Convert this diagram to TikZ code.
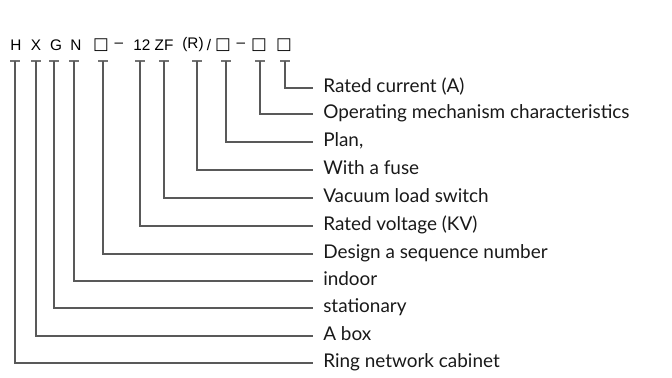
\documentclass[tikz,border=0pt]{standalone}
\usepackage{fontspec}
\setmainfont{Lato}
\newfontfamily\codefont{Liberation Sans}
\newfontfamily\boxfont{DejaVu Sans}
\begin{document}
\begin{tikzpicture}[x=0.75pt,y=-0.75pt,
  ln/.style={draw=black!65, line width=0.8pt},
  tickbar/.style={draw=black!55, line width=0.9pt},
  code/.style={font=\codefont\fontsize{11.5pt}{13pt}\selectfont, inner sep=0pt, anchor=center},
  bx/.style={font=\boxfont\fontsize{12.5pt}{13pt}\selectfont, inner sep=0pt, anchor=center},
  lbl/.style={font=\fontsize{14.2pt}{16pt}\selectfont, inner sep=0pt, anchor=west, text=black!90}]
\useasboundingbox (0,0) rectangle (672,378);
% code line
\node[code] (c1) at (16,45) {H};
\node[code] (c2) at (36,45) {X};
\node[code] (c3) at (56,45) {G};
\node[code] (c4) at (76,45) {N};
\node[bx] (c5) at (101,45) {□};
\node[code] (c6) at (119,45) {–};
\node[code] (c7) at (142,45) {12};
\node[code] (c8) at (164,45) {ZF};
\node[code] (c9) at (193,45) {(R)};
\node[code] (c10) at (209,45) {/};
\node[bx] (c11) at (223,45) {□};
\node[code] (c12) at (241,45) {–};
\node[bx] (c13) at (259,45) {□};
\node[bx] (c14) at (284,45) {□};
% ticks
\foreach \n/\x in {t1/15,t2/36,t3/54,t4/74,t5/103,t6/140,t7/164,t8/197,t9/226,t10/260,t11/285}{
  \coordinate (\n) at (\x,61);
  \draw[tickbar] (\x-5,61) -- (\x+5,61);
}
% labels
\foreach \n/\y/\t in {l11/88/Rated current (A),l10/114/Operating mechanism characteristics,l9/142/{Plan,},l8/170/With a fuse,l7/198/Vacuum load switch,l6/226/Rated voltage (KV),l5/254/Design a sequence number,l4/281/indoor,l3/308/stationary,l2/336/A box,l1/363/Ring network cabinet}{
  \node[lbl] (\n) at (323,\y) {\strut\t};
  \coordinate (e\n) at (313,\y);
}
\foreach \i in {1,...,11}{
  \draw[ln] (t\i) |- (el\i);
}
\end{tikzpicture}
\end{document}
